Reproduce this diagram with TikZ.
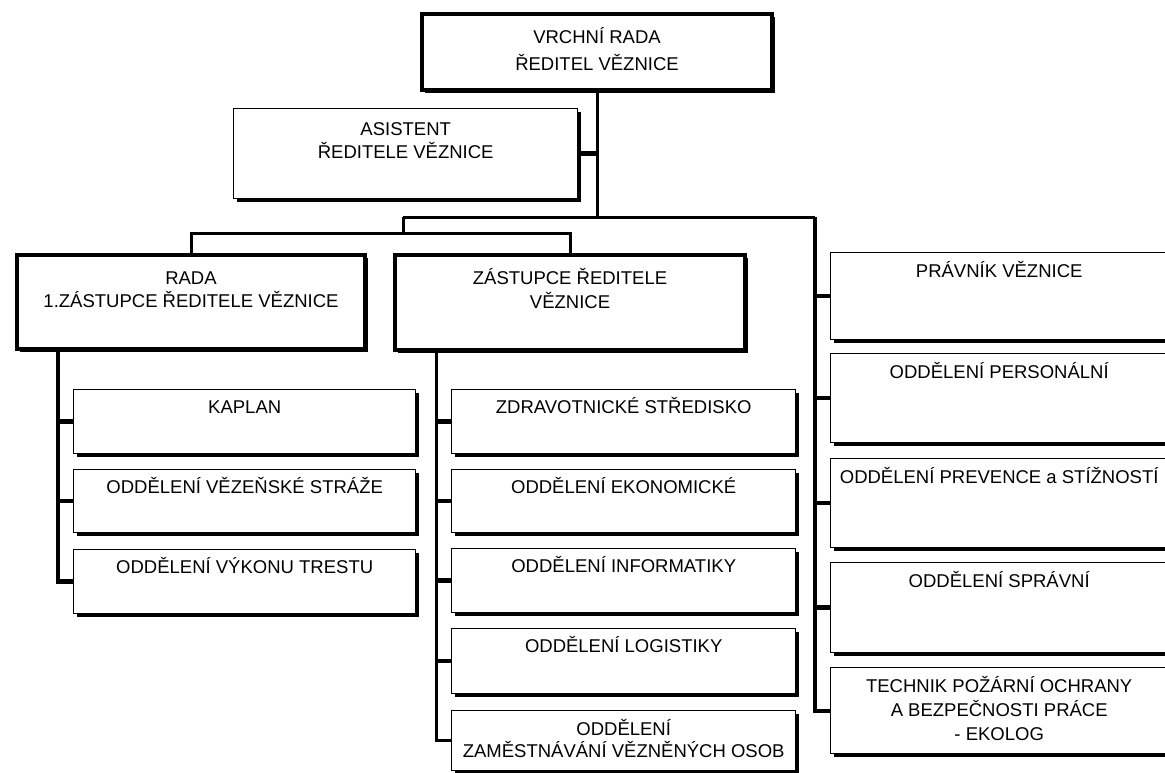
\documentclass[tikz,border=0pt]{standalone}
\usepackage{fontspec}
\setmainfont{Liberation Sans}
\usetikzlibrary{shadows}

% text block of a box: width, height, first baseline, lines
\newcommand{\orgtext}[4]{\parbox[c][#2pt][t]{#1pt}{\centering\rule{0pt}{#3pt}#4}}

\tikzset{
  orgbox/.style={draw, fill=white, line width=1.4pt, inner sep=0pt, anchor=north west,
    drop shadow={shadow xshift=3pt, shadow yshift=-3pt, fill=black, opacity=1}},
  headbox/.style={orgbox, line width=4pt},
  link/.style={line width=3pt},
  rail/.style={line width=4.5pt},
  stub/.style={line width=4.5pt}
}

\begin{document}
\begin{tikzpicture}[x=1pt, y=-1pt, font=\fontsize{18.5}{23}\selectfont]
\useasboundingbox (0,0) rectangle (1165,773);
\clip (0,0) rectangle (1165,773);
% Head of the prison and the assistant
\node[headbox, font=\fontsize{18.5}{27}\selectfont] (top) at (420,12)
  {\orgtext{350}{76}{30}{VRCHNÍ RADA\\ŘEDITEL VĚZNICE}};
\node[orgbox] (asist) at (233,108) {\orgtext{344}{90}{27}{ASISTENT\\ŘEDITELE VĚZNICE}};
% Deputies
\node[headbox] (rada) at (15,253) {\orgtext{348}{94}{29}{RADA\\1.ZÁSTUPCE ŘEDITELE VĚZNICE}};
\node[headbox, font=\fontsize{18.5}{24}\selectfont] (zast) at (393,253)
  {\orgtext{350}{95}{29}{ZÁSTUPCE ŘEDITELE\\VĚZNICE}};
% Left column
\node[orgbox] (kaplan) at (73,389) {\orgtext{342}{64}{24}{KAPLAN}};
\node[orgbox] (straze) at (73,469) {\orgtext{342}{63}{24}{ODDĚLENÍ VĚZEŇSKÉ STRÁŽE}};
\node[orgbox] (vykon) at (73,549) {\orgtext{342}{64}{24}{ODDĚLENÍ VÝKONU TRESTU}};
% Middle column
\node[orgbox] (zdrav) at (451,389) {\orgtext{344}{64}{24}{ZDRAVOTNICKÉ STŘEDISKO}};
\node[orgbox] (ekonom) at (451,469) {\orgtext{344}{63}{24}{ODDĚLENÍ EKONOMICKÉ}};
\node[orgbox] (info) at (451,548) {\orgtext{344}{64}{24}{ODDĚLENÍ INFORMATIKY}};
\node[orgbox] (logist) at (451,628) {\orgtext{344}{65}{24}{ODDĚLENÍ LOGISTIKY}};
\node[orgbox, font=\fontsize{18.5}{22}\selectfont] (zamest) at (451,710)
  {\orgtext{344}{60}{25}{ODDĚLENÍ\\ZAMĚSTNÁVÁNÍ VĚZNĚNÝCH OSOB}};
% Right column
\node[orgbox] (pravnik) at (830,252) {\orgtext{337}{87}{25}{PRÁVNÍK VĚZNICE}};
\node[orgbox] (personal) at (830,353) {\orgtext{337}{89}{25}{ODDĚLENÍ PERSONÁLNÍ}};
\node[orgbox] (prevence) at (830,458) {\orgtext{337}{89}{25}{ODDĚLENÍ PREVENCE a STÍŽNOSTÍ}};
\node[orgbox] (spravni) at (830,562) {\orgtext{337}{90}{25}{ODDĚLENÍ SPRÁVNÍ}};
\node[orgbox, font=\fontsize{18.5}{24}\selectfont] (technik) at (830,667)
  {\orgtext{337}{86}{25}{TECHNIK POŽÁRNÍ OCHRANY\\A BEZPEČNOSTI PRÁCE\\- EKOLOG}};
% Bus points
\coordinate (hub) at (top.south |- 0,217);
\coordinate (lbus) at (403,217);
\coordinate (rbus) at (815,217);
\coordinate (lsplit) at (403,233);
\path (rada.south) ++(-133,0) coordinate (lspine);
\path (zast.south) ++(-134,0) coordinate (mspine);
% Connectors from the top
\draw[link] (top.south) -- (hub);
\draw[stub] (asist.east) -- (asist.east -| hub);
\draw[link] (lbus) -- (rbus);
\draw[rail, line width=4pt] (rbus) |- (technik.west);
\foreach \n in {pravnik, personal, prevence, spravni}
  \draw[stub] (rbus |- \n.west) -- (\n.west);
\draw[link] (lbus) -- (lsplit);
\draw[link] (rada.north) |- (lsplit) -| (zast.north);
% Left column connectors
\draw[rail] (lspine) |- (vykon.west);
\foreach \n in {kaplan, straze}
  \draw[stub] (lspine |- \n.west) -- (\n.west);
% Middle column connectors
\draw[link] (mspine) |- (zamest.west);
\foreach \n in {zdrav, ekonom, info, logist}
  \draw[stub] (mspine |- \n.west) -- (\n.west);
\end{tikzpicture}
\end{document}
